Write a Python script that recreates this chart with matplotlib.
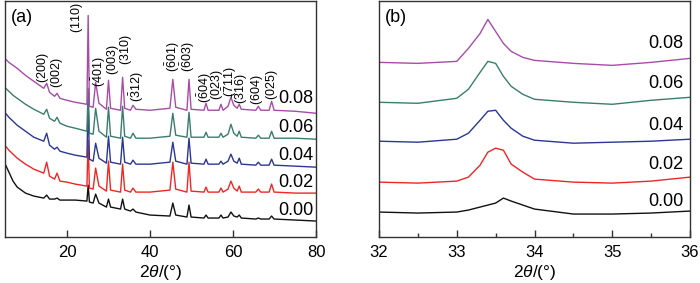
import numpy as np
import matplotlib
matplotlib.use("Agg")
import matplotlib.pyplot as plt

plt.rcParams['font.family'] = ['Liberation Sans', 'DejaVu Sans']
plt.rcParams['mathtext.fontset'] = 'custom'
plt.rcParams['mathtext.rm'] = 'Liberation Sans'
plt.rcParams['mathtext.it'] = 'Liberation Sans:italic'

# ---------------- data: panel (a) ----------------
series_labels = ["0.00", "0.02", "0.04", "0.06", "0.08"]
colors = ["#111111", "#ee2626", "#2b3794", "#3a7d6d", "#a84ca8"]

x_a = [5, 6, 7, 8, 10, 12, 14.4, 15.1, 15.8, 17.0, 17.6, 18.3, 20, 22, 24.8, 25.1, 25.4,
       26.3, 26.9, 27.7, 29.5, 30.0, 30.5, 32.9, 33.4, 33.9, 35.3, 35.9, 36.6, 40,
       44.8, 45.5, 46.2, 48.9, 49.4, 49.9, 53.0, 53.5, 54.0, 56.6, 57.1, 57.6,
       58.8, 59.5, 60.2, 61.0, 61.5, 62.0, 65.5, 66.1, 66.7, 68.7, 69.3, 69.9, 75, 80]

# vertical positions (pixel rows from top)
ypx_000 = [163, 172, 181, 187, 193, 196, 198, 195, 199, 199, 198, 200, 200, 200, 201, 185, 202,
           203, 194, 203, 207, 199, 207, 209, 199, 209, 211, 209, 212, 215,
           216, 203, 215, 217, 205, 217, 218, 215, 218, 218, 215, 218,
           217, 212, 216, 217, 215, 218, 219, 218, 219, 219, 216, 219, 220, 221]
ypx_002 = [145, 150, 154, 158, 164, 169, 173, 162, 176, 179, 173, 181, 182, 184, 186, 140, 188,
           189, 168, 186, 191, 161, 190, 192, 164, 190, 192, 188, 192, 192,
           190, 162, 189, 192, 162, 191, 192, 187, 192, 192, 188, 192,
           189, 181, 188, 191, 186, 192, 192, 189, 192, 192, 184, 192, 193, 193]
ypx_004 = [112, 117, 121, 125, 131, 137, 141, 133, 145, 149, 147, 151, 153, 155, 157, 100, 159,
           161, 143, 158, 163, 136, 162, 164, 137, 162, 164, 160, 164, 164,
           162, 142, 161, 164, 138, 163, 164, 159, 164, 164, 161, 164,
           161, 154, 161, 163, 158, 164, 165, 162, 165, 165, 159, 165, 166, 167]
ypx_006 = [87, 91, 95, 98, 104, 109, 114, 109, 118, 121, 117, 123, 126, 128, 131, 88, 133,
           134, 108, 131, 137, 107, 136, 138, 106, 136, 138, 133, 138, 138,
           136, 113, 135, 137, 112, 137, 137, 132, 137, 137, 133, 137,
           134, 124, 133, 136, 131, 137, 138, 135, 138, 138, 131, 138, 138, 139]
ypx_008 = [58, 62, 65, 68, 75, 81, 88, 83, 92, 96, 93, 98, 100, 102, 104, 15, 106,
           107, 82, 103, 109, 80, 108, 110, 77, 108, 110, 105, 109, 110,
           108, 79, 107, 110, 79, 109, 110, 103, 110, 110, 104, 110,
           106, 97, 105, 108, 104, 109, 110, 106, 110, 110, 101, 110, 111, 113]
ypx_a = [ypx_000, ypx_002, ypx_004, ypx_006, ypx_008]

peak_labels = [r"$(200)$", r"$(002)$", r"$(110)$", r"$(\bar{4}01)$", r"$(003)$", r"$(310)$",
               r"$(\bar{3}12)$", r"$(\bar{6}01)$", r"$(\bar{6}03)$", r"$(\bar{6}04)$",
               r"$(023)$", r"$(\bar{7}11)$", r"$(\bar{3}16)$", r"$(604)$", r"$(025)$"]
peak_label_x = [14.15, 17.5, 22.5, 27.7, 31.1, 34.2, 36.9, 45.6, 49.2, 53.3, 56.1, 59.3, 61.9, 65.8, 69.4]
peak_label_ypx = [83, 88, 33, 87, 75, 65, 102, 72, 72, 103, 100, 97, 104, 105, 100]

# ---------------- data: panel (b) ----------------
x_b = [32.0, 32.5, 33.0, 33.15, 33.3, 33.4, 33.5, 33.6, 33.7, 33.85, 34.0, 34.5, 35.0, 35.5, 36.0]
ypxb_000 = [212, 213, 212, 210, 207, 205, 203, 198, 201, 205, 209, 214, 214, 213, 211]
ypxb_002 = [182, 183, 181, 177, 165, 152, 148, 150, 164, 172, 179, 182, 183, 181, 177]
ypxb_004 = [141, 142, 139, 133, 120, 111, 110, 120, 128, 136, 140, 143, 142, 141, 139]
ypxb_006 = [102, 103, 98, 89, 72, 61, 63, 76, 86, 94, 99, 102, 104, 100, 97]
ypxb_008 = [62, 63, 61, 48, 33, 19, 31, 43, 51, 57, 60, 63, 65, 62, 58]
ypx_b = [ypxb_000, ypxb_002, ypxb_004, ypxb_006, ypxb_008]

H = 237.0  # axis height in pixel rows

fig = plt.figure(figsize=(7.0, 2.83), dpi=100)
ax_a = fig.add_axes([4.75 / 700, 46 / 283, (316 - 4.75) / 700, 236.5 / 283])
ax_b = fig.add_axes([379 / 700, 46 / 283, (690 - 379) / 700, 236.5 / 283])

spine_col = "#333333"
for ax in (ax_a, ax_b):
    for s in ax.spines.values():
        s.set_color(spine_col)
        s.set_linewidth(1.0)
    ax.set_yticks([])
    ax.set_ylim(0, H)
    ax.tick_params(axis='x', direction='in', length=5, width=1.0, color=spine_col,
                   labelsize=12, pad=6, top=False)
    ax.tick_params(axis='x', which='minor', direction='in', length=3, width=1.0, color=spine_col)

# panel (a)
for ypx, c in zip(ypx_a, colors):
    ax_a.plot(x_a, H - np.array(ypx), color=c, lw=1.0)
ax_a.set_xlim(5, 80)
ax_a.set_xticks([20, 40, 60, 80])
ax_a.set_xlabel(r"$2\theta$/(°)", fontsize=12.5, labelpad=2)
lab_ypx_a = [210, 182, 155, 127, 98]
for lab, ypx in zip(series_labels, lab_ypx_a):
    ax_a.text(79.4, H - ypx, lab, ha='right', va='center', fontsize=13)
for lab, px, py in zip(peak_labels, peak_label_x, peak_label_ypx):
    ax_a.text(px, H - py, lab, rotation=90, ha='center', va='bottom', fontsize=9,
              clip_on=False)
ax_a.text(0.02, 0.93, "(a)", transform=ax_a.transAxes, ha='left', va='center', fontsize=13)

# panel (b)
for ypx, c in zip(ypx_b, colors):
    ax_b.plot(x_b, H - np.array(ypx), color=c, lw=1.0)
ax_b.set_xlim(32, 36)
ax_b.set_xticks([32, 33, 34, 35, 36])
ax_b.set_xticks([32.5, 33.5, 34.5, 35.5], minor=True)
ax_b.set_xlabel(r"$2\theta$/(°)", fontsize=12.5, labelpad=2)
lab_ypx_b = [201, 164, 125, 83, 43]
for lab, ypx in zip(series_labels, lab_ypx_b):
    ax_b.text(35.91, H - ypx, lab, ha='right', va='center', fontsize=13)
ax_b.text(0.02, 0.93, "(b)", transform=ax_b.transAxes, ha='left', va='center', fontsize=13)

fig.savefig("out.png", dpi=100)
